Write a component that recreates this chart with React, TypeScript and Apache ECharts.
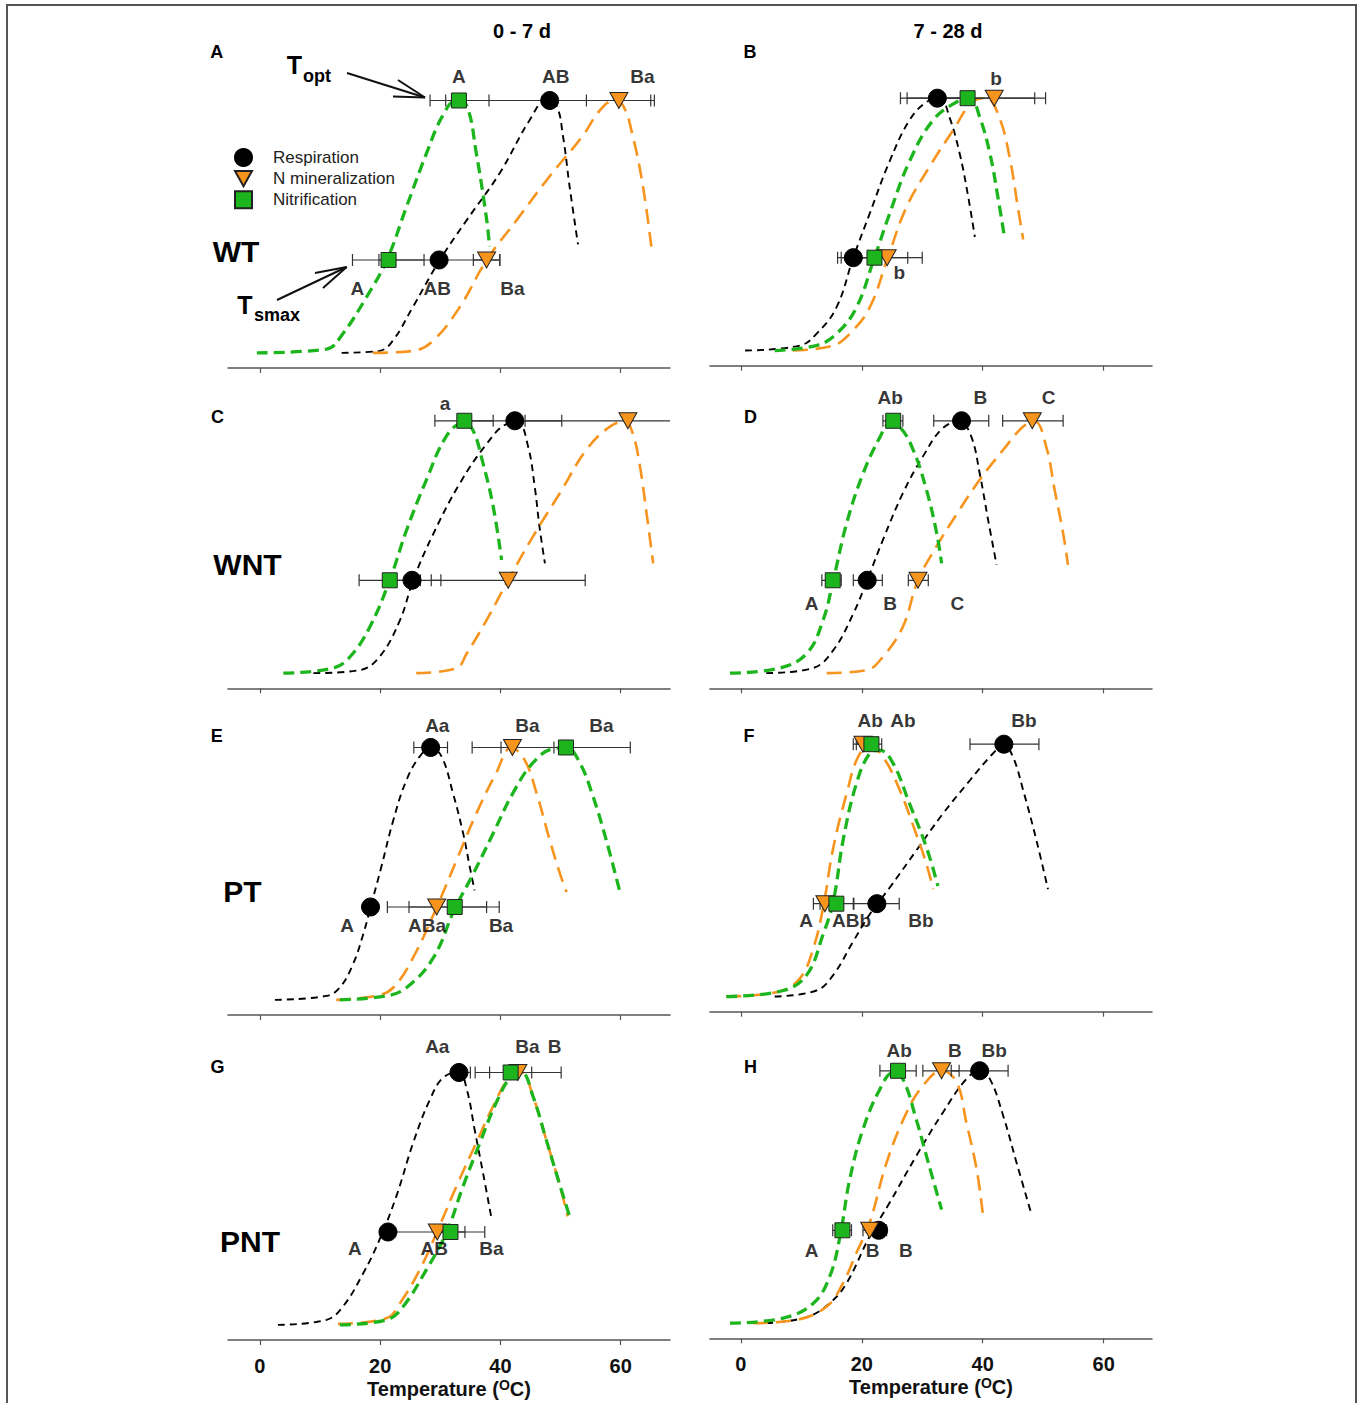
import React, { useEffect, useRef } from "react";
import * as echarts from "echarts";

const FONT = "'Liberation Sans', Arial, Helvetica, sans-serif";
const C_RESP = "#000000";
const C_NMIN = "#F7941D";
const C_NIT = "#1DB51D";
const TRI = "path://M0,0L20,0L10,18Z";

const SERIES_NAMES = ["Respiration", "N mineralization", "Nitrification"];
const X_TICKS = [0, 20, 40, 60];
const PANEL_LETTERS = ["A", "B", "C", "D", "E", "F", "G", "H"];
const ROW_LABELS = ["WT", "WNT", "PT", "PNT"];
const COLUMN_TITLES = ["0 - 7 d", "7 - 28 d"];
const TOPT_LEVEL = 1.0;
const TSMAX_LEVEL = 0.368;

// ---- fitted curves: [temperature, relative rate] ----
const A_resp = [[13.6, 0], [19.9, 0.008], [22.1, 0.048], [25.4, 0.18], [29.9, 0.367], [34.4, 0.526], [39.9, 0.713], [44.9, 0.924], [47.6, 1.0], [49.3, 0.98], [50.4, 0.86], [51.5, 0.66], [52.9, 0.43]];
const A_nmin = [[18.8, 0], [25.5, 0.008], [28.8, 0.048], [33.2, 0.18], [37.7, 0.367], [42.7, 0.526], [48.2, 0.7], [53.7, 0.86], [56.5, 0.96], [58.9, 1.0], [60.4, 0.98], [62.0, 0.86], [63.7, 0.66], [65.1, 0.42]];
const A_nit = [[-0.5, 0], [11.1, 0.015], [13.8, 0.076], [17.7, 0.22], [21.1, 0.367], [24.4, 0.58], [27.7, 0.79], [30.4, 0.94], [32.7, 1.0], [34.4, 0.98], [36.0, 0.79], [37.7, 0.53], [38.2, 0.42]];

const B_resp = [[0.7, 0], [9.8, 0.02], [12.5, 0.066], [15.8, 0.17], [18.6, 0.368], [21.3, 0.542], [24.6, 0.75], [27.9, 0.913], [30.7, 0.985], [32.9, 1.0], [34.5, 0.925], [36.2, 0.78], [37.6, 0.61], [38.7, 0.45]];
const B_nmin = [[8.6, 0], [15.3, 0.02], [18.0, 0.066], [21.3, 0.17], [24.3, 0.368], [27.4, 0.569], [31.2, 0.728], [35.1, 0.873], [38.4, 0.987], [40.6, 1.0], [42.8, 0.92], [44.5, 0.76], [45.8, 0.57], [46.7, 0.44]];
const B_nit = [[5.6, 0], [12.5, 0.02], [15.8, 0.066], [19.1, 0.17], [22.1, 0.368], [24.6, 0.542], [27.9, 0.75], [31.8, 0.913], [35.7, 0.985], [37.9, 1.0], [39.5, 0.925], [41.2, 0.78], [42.5, 0.61], [43.6, 0.45]];

const C_resp = [[8.9, 0], [16.6, 0.012], [19.9, 0.065], [23.3, 0.21], [25.5, 0.369], [28.8, 0.55], [33.2, 0.75], [37.7, 0.908], [41.0, 0.987], [42.9, 0.994], [44.6, 0.898], [45.7, 0.74], [46.5, 0.58], [47.4, 0.435]];
const C_nmin = [[26.0, 0], [32.7, 0.02], [34.4, 0.078], [37.7, 0.21], [41.3, 0.369], [45.4, 0.541], [49.9, 0.714], [54.3, 0.885], [58.2, 0.977], [60.7, 0.997], [62.0, 0.95], [63.2, 0.82], [64.3, 0.634], [65.4, 0.435]];
const C_nit = [[3.9, 0], [12.2, 0.02], [15.0, 0.065], [18.3, 0.184], [21.6, 0.369], [24.4, 0.567], [27.7, 0.766], [31.0, 0.938], [33.8, 0.991], [35.4, 0.964], [37.1, 0.832], [38.8, 0.66], [40.2, 0.448]];

const D_resp = [[4.2, 0], [11.9, 0.02], [15.3, 0.091], [18.6, 0.236], [20.9, 0.369], [23.5, 0.528], [26.8, 0.713], [30.1, 0.858], [33.4, 0.971], [36.2, 0.997], [38.1, 0.938], [39.5, 0.792], [40.9, 0.607], [42.3, 0.429]];
const D_nmin = [[14.2, 0], [20.8, 0.012], [23.5, 0.065], [26.8, 0.184], [29.3, 0.368], [32.3, 0.5], [35.7, 0.63], [39.5, 0.766], [43.4, 0.885], [46.7, 0.977], [48.6, 0.997], [50.5, 0.898], [51.9, 0.726], [53.3, 0.554], [54.1, 0.429]];
const D_nit = [[-1.8, 0], [6.4, 0.02], [10.9, 0.078], [13.6, 0.21], [15.3, 0.369], [17.5, 0.594], [20.2, 0.79], [23.0, 0.935], [24.6, 0.987], [26.3, 0.975], [28.5, 0.885], [30.7, 0.726], [32.4, 0.554], [33.2, 0.435]];

const E_resp = [[2.5, 0], [11.1, 0.016], [13.3, 0.049], [15.5, 0.142], [17.2, 0.261], [18.4, 0.367], [20.2, 0.527], [22.2, 0.713], [24.4, 0.872], [26.6, 0.965], [28.4, 0.999], [30.2, 0.965], [32.1, 0.82], [33.8, 0.66], [34.9, 0.527], [35.7, 0.434]];
const E_nmin = [[12.7, 0], [19.4, 0.016], [22.2, 0.049], [25.5, 0.168], [29.4, 0.367], [32.7, 0.553], [36.0, 0.739], [39.3, 0.899], [41.8, 0.999], [44.0, 0.952], [46.0, 0.82], [48.2, 0.633], [49.9, 0.5], [51.0, 0.427]];
const E_nit = [[13.3, 0], [21.1, 0.016], [24.4, 0.049], [28.8, 0.165], [32.4, 0.36], [35.5, 0.5], [38.8, 0.66], [42.1, 0.82], [45.4, 0.939], [48.7, 0.995], [51.0, 0.999], [53.2, 0.939], [55.4, 0.806], [57.6, 0.633], [59.8, 0.434]];

const F_resp = [[5.6, 0], [12.5, 0.024], [15.3, 0.086], [18.6, 0.219], [21.3, 0.325], [24.6, 0.431], [29.0, 0.578], [33.4, 0.724], [37.9, 0.857], [41.7, 0.963], [43.5, 0.996], [45.0, 0.95], [46.7, 0.817], [48.9, 0.618], [50.8, 0.425]];
const F_nmin = [[-2.4, 0], [6.4, 0.02], [9.8, 0.073], [12.0, 0.192], [13.6, 0.352], [15.3, 0.591], [17.5, 0.804], [19.4, 0.95], [21.3, 0.99], [23.5, 0.95], [26.3, 0.817], [29.0, 0.644], [30.7, 0.525], [31.8, 0.425]];
const F_nit = [[-2.4, 0], [7.0, 0.024], [10.9, 0.086], [13.6, 0.246], [15.3, 0.378], [16.9, 0.618], [19.1, 0.843], [21.3, 0.963], [23.0, 0.976], [25.2, 0.923], [27.9, 0.764], [30.7, 0.591], [32.6, 0.438]];

const G_resp = [[3.0, 0], [11.1, 0.02], [13.8, 0.072], [17.2, 0.205], [19.9, 0.338], [22.7, 0.51], [25.5, 0.722], [28.3, 0.894], [30.5, 0.98], [33.1, 1.0], [34.4, 0.934], [35.7, 0.775], [37.1, 0.603], [38.5, 0.424]];
const G_nmin = [[13.0, 0.004], [21.1, 0.027], [23.3, 0.086], [26.6, 0.219], [29.5, 0.371], [32.7, 0.55], [36.0, 0.722], [38.8, 0.867], [41.5, 0.98], [43.5, 1.0], [45.4, 0.907], [47.6, 0.735], [49.6, 0.576], [51.2, 0.43]];
const G_nit = [[13.3, 0], [21.1, 0.02], [23.8, 0.072], [27.7, 0.219], [31.0, 0.364], [33.8, 0.55], [36.6, 0.722], [39.3, 0.88], [41.8, 0.986], [43.5, 1.0], [45.4, 0.907], [47.6, 0.735], [49.6, 0.576], [51.5, 0.43]];

const H_resp = [[4.2, 0], [10.9, 0.024], [14.7, 0.079], [17.5, 0.159], [21.3, 0.344], [24.6, 0.477], [29.0, 0.662], [33.4, 0.834], [37.3, 0.967], [39.5, 1.0], [41.2, 0.967], [43.4, 0.821], [45.6, 0.636], [48.0, 0.437]];
const H_nmin = [[2.0, 0], [9.2, 0.013], [14.2, 0.066], [16.9, 0.159], [19.1, 0.278], [21.3, 0.397], [24.1, 0.636], [27.4, 0.834], [30.1, 0.94], [33.2, 1.0], [35.7, 0.954], [37.3, 0.795], [39.0, 0.609], [40.0, 0.437]];
const H_nit = [[-1.8, 0], [7.0, 0.02], [12.0, 0.079], [14.7, 0.185], [16.4, 0.344], [18.0, 0.569], [20.2, 0.768], [23.0, 0.927], [25.2, 0.993], [26.8, 0.967], [29.0, 0.808], [31.0, 0.636], [33.2, 0.45]];

// ---- Topt / Tsmax estimates: [respiration, N mineralization, nitrification], each [mean, low, high] ----
const A_topt = [[48.2, 30.9, 65.6], [59.7, 54.3, 65.0], [33.1, 28.3, 38.1]];
const A_tsmax = [[29.8, 19.8, 39.9], [37.7, 35.5, 39.9], [21.4, 15.4, 27.3]];
const B_topt = [[32.5, 27.5, 37.5], [41.9, 33.2, 50.4], [37.5, 26.4, 48.6]];
const B_tsmax = [[18.6, 16.0, 21.2], [24.2, 18.5, 30.0], [22.1, 16.6, 27.6]];
const C_topt = [[42.4, 34.6, 50.2], [61.2, 44.1, 78.4], [34.0, 29.1, 38.8]];
const C_tsmax = [[25.3, 20.6, 30.1], [41.3, 28.5, 54.1], [21.6, 16.5, 26.7]];
const D_topt = [[36.5, 31.9, 41.0], [48.2, 43.3, 53.3], [25.2, 23.5, 26.8]];
const D_tsmax = [[20.9, 18.6, 23.4], [29.3, 27.7, 31.0], [15.2, 13.4, 16.6]];
const E_topt = [[28.4, 25.6, 31.2], [42.0, 35.3, 48.9], [50.9, 40.1, 61.6]];
const E_tsmax = [[18.4, 17.6, 19.2], [29.4, 21.2, 37.7], [32.4, 24.8, 39.8]];
const F_topt = [[43.5, 37.9, 49.3], [20.2, 18.6, 21.8], [21.6, 19.1, 23.3]];
const F_tsmax = [[22.5, 18.7, 26.2], [13.9, 12.0, 15.8], [15.8, 13.1, 18.6]];
const G_topt = [[33.1, 32.1, 35.0], [42.9, 35.8, 50.1], [41.7, 38.2, 45.2]];
const G_tsmax = [[21.3, 20.6, 22.0], [29.5, 21.5, 37.4], [31.7, 29.1, 34.1]];
const H_topt = [[39.5, 34.8, 44.2], [33.2, 30.1, 36.1], [26.0, 23.0, 29.0]];
const H_tsmax = [[22.8, 21.5, 24.1], [21.3, 20.2, 22.4], [16.8, 15.2, 18.3]];

// ---- significance letters: [temperature, level, text] ----
const A_letters = [[33.1, 1.094, "A"], [49.2, 1.094, "AB"], [63.6, 1.094, "Ba"], [16.2, 0.256, "A"], [29.5, 0.256, "AB"], [42.0, 0.256, "Ba"]];
const B_letters = [[42.2, 1.076, "b"], [26.2, 0.309, "b"]];
const C_letters = [[30.8, 1.07, "a"]];
const D_letters = [[24.7, 1.091, "Ab"], [39.6, 1.091, "B"], [50.9, 1.091, "C"], [11.7, 0.277, "A"], [24.7, 0.277, "B"], [35.8, 0.277, "C"]];
const E_letters = [[29.5, 1.086, "Aa"], [44.5, 1.086, "Ba"], [56.8, 1.086, "Ba"], [14.5, 0.294, "A"], [27.8, 0.294, "ABa"], [40.1, 0.294, "Ba"]];
const F_letters = [[21.4, 1.093, "Ab"], [26.8, 1.093, "Ab"], [46.8, 1.093, "Bb"], [10.8, 0.3, "A"], [18.3, 0.3, "ABb"], [29.8, 0.3, "Bb"]];
const G_letters = [[29.5, 1.103, "Aa"], [44.5, 1.103, "Ba"], [49.0, 1.103, "B"], [15.8, 0.304, "A"], [29.0, 0.304, "AB"], [38.5, 0.304, "Ba"]];
const H_letters = [[26.2, 1.08, "Ab"], [35.4, 1.08, "B"], [41.9, 1.08, "Bb"], [11.7, 0.288, "A"], [21.8, 0.288, "B"], [27.3, 0.288, "B"]];

const PANEL_DATA = [
  { curves: [A_resp, A_nmin, A_nit], topt: A_topt, tsmax: A_tsmax, letters: A_letters },
  { curves: [B_resp, B_nmin, B_nit], topt: B_topt, tsmax: B_tsmax, letters: B_letters },
  { curves: [C_resp, C_nmin, C_nit], topt: C_topt, tsmax: C_tsmax, letters: C_letters },
  { curves: [D_resp, D_nmin, D_nit], topt: D_topt, tsmax: D_tsmax, letters: D_letters },
  { curves: [E_resp, E_nmin, E_nit], topt: E_topt, tsmax: E_tsmax, letters: E_letters },
  { curves: [F_resp, F_nmin, F_nit], topt: F_topt, tsmax: F_tsmax, letters: F_letters },
  { curves: [G_resp, G_nmin, G_nit], topt: G_topt, tsmax: G_tsmax, letters: G_letters },
  { curves: [H_resp, H_nmin, H_nit], topt: H_topt, tsmax: H_tsmax, letters: H_letters },
];

// ---- layout (pixels) ----
const COL_LAYOUT = [
  { left: 228, width: 442, min: -5.3, max: 68.2 },
  { left: 710, width: 442, min: -5.1, max: 68.0 },
];
const AXIS_Y = [368, 365.7, 688.3, 688.3, 1015, 1011.7, 1340, 1338.3];
const Y_MIN = -0.06;
const Y_MAX = 1.2;
const GRID_H = 318;

const LINE_STYLES = [
  { color: C_RESP, width: 1.9, type: [7, 5] },
  { color: C_NMIN, width: 2.6, type: [15, 8] },
  { color: C_NIT, width: 3.3, type: [11, 6] },
];
const MARKERS = [
  { symbol: "circle", size: 18, color: C_RESP, border: C_RESP },
  { symbol: TRI, size: [18, 16], color: C_NMIN, border: "#222" },
  { symbol: "rect", size: 15, color: C_NIT, border: "#222" },
];

function buildOption() {
  const grid: any[] = [];
  const xAxis: any[] = [];
  const yAxis: any[] = [];
  const series: any[] = [];

  PANEL_DATA.forEach((p, i) => {
    const col = COL_LAYOUT[i % 2];
    const bottomRow = i >= 6;
    grid.push({ left: col.left, width: col.width, top: AXIS_Y[i] - GRID_H, height: GRID_H, containLabel: false });
    xAxis.push({
      type: "value",
      gridIndex: i,
      min: col.min,
      max: col.max,
      axisLine: { show: true, onZero: false, lineStyle: { color: "#555", width: 1.5 } },
      axisTick: { show: true, length: 5, customValues: X_TICKS, lineStyle: { color: "#555", width: 1.2 } },
      axisLabel: {
        show: bottomRow,
        customValues: X_TICKS,
        margin: 16,
        fontSize: 20,
        fontWeight: "bold",
        color: "#111",
        fontFamily: FONT,
      },
      splitLine: { show: false },
      name: bottomRow ? "Temperature ({sup|O}C)" : "",
      nameLocation: "middle",
      nameGap: 38,
      nameTextStyle: {
        fontSize: 20,
        fontWeight: "bold",
        color: "#111",
        fontFamily: FONT,
        lineHeight: 22,
        rich: { sup: { fontSize: 14, fontWeight: "bold", color: "#111", fontFamily: FONT, verticalAlign: "top", lineHeight: 12 } },
      },
    });
    yAxis.push({ type: "value", gridIndex: i, min: Y_MIN, max: Y_MAX, show: false });

    p.curves.forEach((c, k) => {
      series.push({
        type: "line",
        name: SERIES_NAMES[k] + " fit",
        xAxisIndex: i,
        yAxisIndex: i,
        data: c,
        smooth: 0.4,
        showSymbol: false,
        silent: true,
        z: 2,
        lineStyle: LINE_STYLES[k],
      });
    });

    const bars: any[] = [];
    for (let k = 0; k < 3; k++) {
      bars.push([p.topt[k][0], p.topt[k][1], p.topt[k][2], TOPT_LEVEL]);
      bars.push([p.tsmax[k][0], p.tsmax[k][1], p.tsmax[k][2], TSMAX_LEVEL]);
    }
    series.push({
      type: "custom",
      name: "error",
      xAxisIndex: i,
      yAxisIndex: i,
      z: 3,
      silent: true,
      clip: true,
      encode: { x: [0, 1, 2], y: 3 },
      data: bars,
      renderItem: (params: any, api: any) => {
        const y = api.value(3);
        const p0 = api.coord([api.value(1), y]);
        const p1 = api.coord([api.value(2), y]);
        const cap = 6;
        const style = { stroke: "#333", lineWidth: 1.2 };
        return {
          type: "group",
          children: [
            { type: "line", shape: { x1: p0[0], y1: p0[1], x2: p1[0], y2: p1[1] }, style },
            { type: "line", shape: { x1: p0[0], y1: p0[1] - cap, x2: p0[0], y2: p0[1] + cap }, style },
            { type: "line", shape: { x1: p1[0], y1: p1[1] - cap, x2: p1[0], y2: p1[1] + cap }, style },
          ],
        };
      },
    });

    for (let k = 0; k < 3; k++) {
      const m = MARKERS[k];
      series.push({
        type: "scatter",
        name: SERIES_NAMES[k],
        xAxisIndex: i,
        yAxisIndex: i,
        z: 4,
        symbol: m.symbol,
        symbolSize: m.size,
        symbolKeepAspect: false,
        itemStyle: { color: m.color, borderColor: m.border, borderWidth: 1, opacity: 1 },
        data: [
          [p.topt[k][0], TOPT_LEVEL],
          [p.tsmax[k][0], TSMAX_LEVEL],
        ],
      });
    }

    series.push({
      type: "scatter",
      name: "letters",
      xAxisIndex: i,
      yAxisIndex: i,
      z: 5,
      silent: true,
      symbolSize: 1,
      itemStyle: { color: "rgba(0,0,0,0)" },
      label: {
        show: true,
        position: "inside",
        formatter: (d: any) => d.value[2],
        fontSize: 19,
        fontWeight: "bold",
        color: "#000",
        fontFamily: FONT,
      },
      data: p.letters,
    });
  });

  const textStyleBold = (size: number) => ({ fontSize: size, fontWeight: "bold", fill: "#000", fontFamily: FONT });
  const graphic: any[] = [
    { type: "rect", shape: { x: 7, y: 5, width: 1349, height: 1420 }, style: { fill: "none", stroke: "#555", lineWidth: 2 }, silent: true },
    { type: "text", x: 522, y: 31, style: { text: COLUMN_TITLES[0], ...textStyleBold(20), align: "center", verticalAlign: "middle" } },
    { type: "text", x: 948, y: 31, style: { text: COLUMN_TITLES[1], ...textStyleBold(20), align: "center", verticalAlign: "middle" } },
  ];
  const letterPos = [
    [216.7, 51.7], [750, 51.7], [217.5, 416.7], [750.5, 416.7],
    [216.7, 735.8], [749, 735.8], [217.5, 1066.7], [750.5, 1066.7],
  ];
  PANEL_LETTERS.forEach((t, i) => {
    graphic.push({ type: "text", x: letterPos[i][0], y: letterPos[i][1], style: { text: t, ...textStyleBold(18), align: "center", verticalAlign: "middle" } });
  });
  const rowPos = [[236, 251], [247.5, 564], [242.5, 891], [250, 1241]];
  ROW_LABELS.forEach((t, i) => {
    graphic.push({ type: "text", x: rowPos[i][0], y: rowPos[i][1], style: { text: t, ...textStyleBold(30), align: "center", verticalAlign: "middle" } });
  });
  // T_opt / T_smax annotations
  const arrowStyle = { stroke: "#111", lineWidth: 2 };
  graphic.push(
    { type: "text", x: 294.5, y: 64.6, style: { text: "T", ...textStyleBold(25), align: "center", verticalAlign: "middle" } },
    { type: "text", x: 303, y: 76, style: { text: "opt", ...textStyleBold(18), align: "left", verticalAlign: "middle" } },
    { type: "line", shape: { x1: 347, y1: 73, x2: 425, y2: 97.5 }, style: arrowStyle },
    { type: "line", shape: { x1: 425, y1: 97.5, x2: 398, y2: 80 }, style: arrowStyle },
    { type: "line", shape: { x1: 425, y1: 97.5, x2: 393, y2: 96.5 }, style: arrowStyle },
    { type: "text", x: 245, y: 304.6, style: { text: "T", ...textStyleBold(25), align: "center", verticalAlign: "middle" } },
    { type: "text", x: 254, y: 315, style: { text: "smax", ...textStyleBold(18), align: "left", verticalAlign: "middle" } },
    { type: "line", shape: { x1: 277, y1: 300, x2: 346.7, y2: 267 }, style: arrowStyle },
    { type: "line", shape: { x1: 346.7, y1: 267, x2: 315, y2: 273 }, style: arrowStyle },
    { type: "line", shape: { x1: 346.7, y1: 267, x2: 323, y2: 288 }, style: arrowStyle }
  );

  return {
    animation: false,
    backgroundColor: "#ffffff",
    grid,
    xAxis,
    yAxis,
    series,
    graphic,
    legend: {
      data: [
        { name: SERIES_NAMES[0], icon: "circle" },
        { name: SERIES_NAMES[1], icon: TRI },
        { name: SERIES_NAMES[2], icon: "rect" },
      ],
      orient: "vertical",
      left: 234,
      top: 148,
      padding: 0,
      itemWidth: 17,
      itemHeight: 17,
      itemGap: 3,
      selectedMode: false,
      textStyle: { fontSize: 17, color: "#222", fontFamily: FONT, padding: [0, 0, 0, 16] },
    },
  };
}

export default function App() {
  const ref = useRef<HTMLDivElement>(null);
  useEffect(() => {
    if (!ref.current) return;
    const chart = echarts.init(ref.current, null, { renderer: "svg" });
    chart.setOption(buildOption() as any);
    return () => chart.dispose();
  }, []);
  return <div ref={ref} style={{ position: "absolute", left: 0, top: 0, width: 1360, height: 1403 }} />;
}
